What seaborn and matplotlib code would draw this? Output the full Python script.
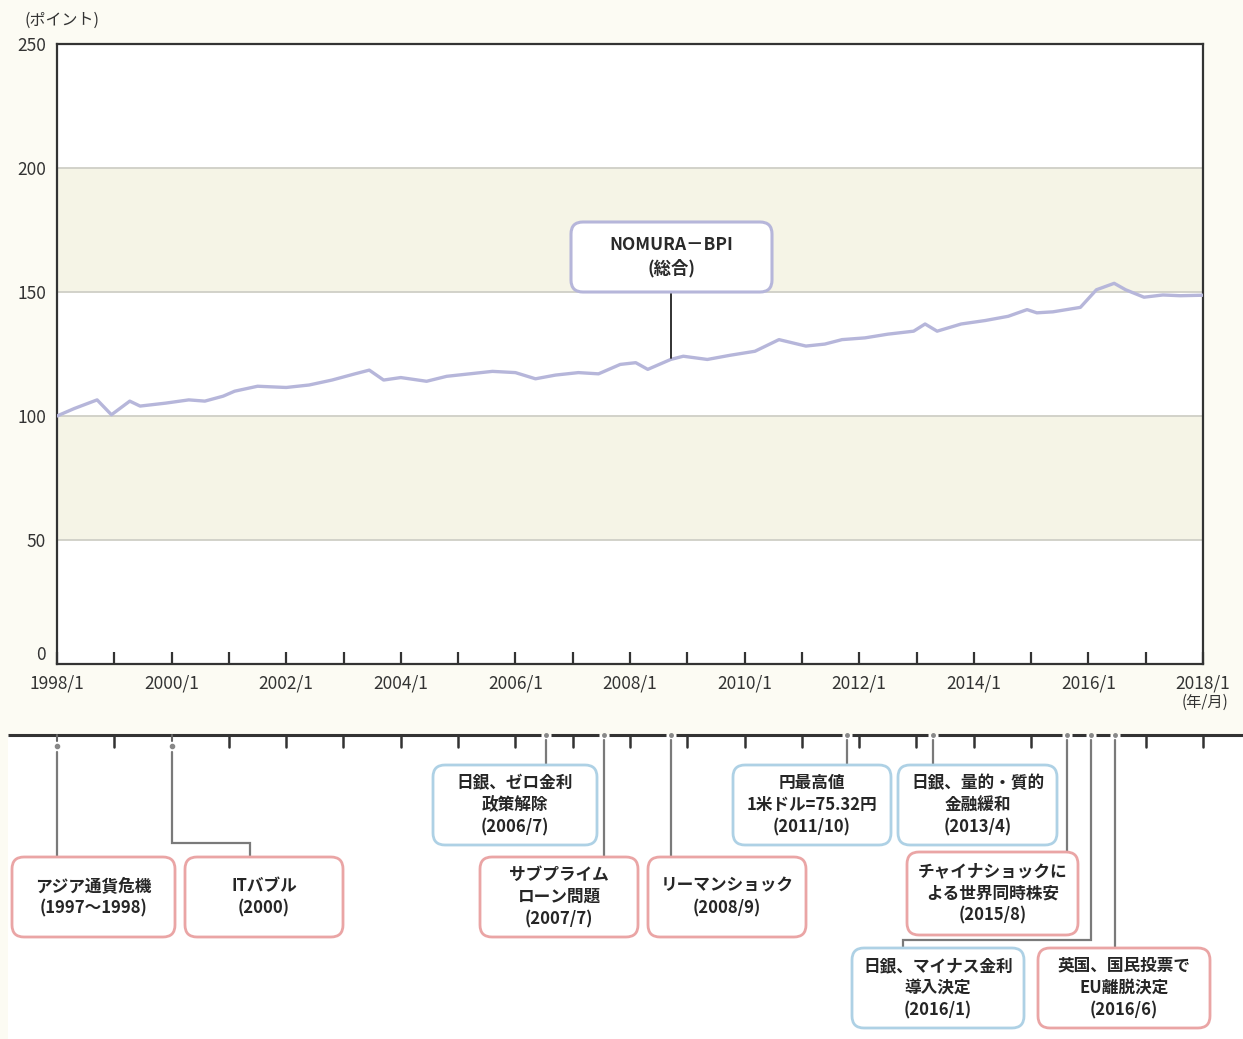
import matplotlib
matplotlib.use("Agg")
import matplotlib.pyplot as plt
import seaborn as sns
import pandas as pd
from matplotlib.patches import FancyBboxPatch, Rectangle

# ---------------- data ----------------
years = [1998.00, 1998.30, 1998.70, 1998.95, 1999.27, 1999.45, 1999.90, 2000.30, 2000.58,
         2000.90, 2001.10, 2001.50, 2002.00, 2002.40, 2002.80, 2003.20, 2003.45, 2003.70,
         2004.00, 2004.45, 2004.80, 2005.20, 2005.60, 2006.00, 2006.35, 2006.70, 2007.10,
         2007.45, 2007.83, 2008.10, 2008.31, 2008.71, 2008.93, 2009.35, 2009.75, 2010.18,
         2010.60, 2011.07, 2011.40, 2011.70, 2012.10, 2012.50, 2012.95, 2013.15, 2013.36,
         2013.78, 2014.20, 2014.60, 2014.93, 2015.10, 2015.38, 2015.86, 2016.14, 2016.45,
         2016.65, 2016.97, 2017.30, 2017.60, 2018.00]
bpi = [100.0, 103.0, 106.5, 100.5, 106.0, 104.0, 105.2, 106.5, 106.0,
       108.0, 110.0, 112.0, 111.5, 112.5, 114.5, 117.0, 118.5, 114.5,
       115.5, 114.0, 116.0, 117.0, 118.0, 117.5, 115.0, 116.5, 117.5,
       117.0, 120.8, 121.5, 118.8, 122.8, 124.1, 122.8, 124.5, 126.1,
       130.8, 128.2, 129.0, 130.8, 131.5, 133.0, 134.2, 137.1, 134.2,
       137.1, 138.5, 140.2, 142.9, 141.6, 142.0, 143.8, 150.9, 153.5,
       150.9, 147.9, 148.8, 148.5, 148.7]

x_tick_years = list(range(1998, 2019))
x_tick_labels = [f"{y}/1" if y % 2 == 0 else "" for y in x_tick_years]
y_ticks = [0, 50, 100, 150, 200, 250]
y_tick_labels = ["0", "50", "100", "150", "200", "250"]
bands = [(50, 100), (150, 200)]
grid_values = [50, 100, 150, 200]

series_label = "NOMURA－BPI\n(総合)"
series_label_year = 2008.71
series_label_value = 123.3

timeline_tick_years = [1999, 2001, 2002, 2003, 2004, 2005, 2006, 2007, 2008, 2009,
                       2010, 2011, 2012, 2013, 2014, 2015, 2017, 2018]

event_labels = [
    "アジア通貨危機\n(1997〜1998)",
    "ITバブル\n(2000)",
    "日銀、ゼロ金利\n政策解除\n(2006/7)",
    "サブプライム\nローン問題\n(2007/7)",
    "リーマンショック\n(2008/9)",
    "円最高値\n1米ドル=75.32円\n(2011/10)",
    "日銀、量的・質的\n金融緩和\n(2013/4)",
    "チャイナショックに\nよる世界同時株安\n(2015/8)",
    "日銀、マイナス金利\n導入決定\n(2016/1)",
    "英国、国民投票で\nEU離脱決定\n(2016/6)",
]
event_years = [1998.0, 2000.0, 2006.54, 2007.54, 2008.71, 2011.79, 2013.29, 2015.62, 2016.04, 2016.46]
event_kind = ["risk", "risk", "policy", "risk", "risk", "policy", "policy", "risk", "policy", "risk"]

# ---------------- layout (pixels) ----------------
W, H = 1243, 1039
box_rects = [  # x0, y0, x1, y1
    (12, 857, 175, 937),
    (185, 857, 343, 937),
    (433, 765, 597, 845),
    (480, 857, 638, 937),
    (648, 857, 806, 937),
    (733, 765, 891, 845),
    (898, 765, 1057, 845),
    (907, 852, 1078, 935),
    (852, 948, 1024, 1028),
    (1038, 948, 1210, 1028),
]
elbows = {1: (843, 250), 8: (940, 903)}  # idx: (elbow_y, elbow_x)

CREAM = "#fcfbf3"
BAND = "#f5f4e6"
GRID = "#cfcfc6"
LINE = "#b6b6da"
DARK = "#333333"
LEAD = "#7a7a7a"
EDGE = {"risk": "#eaa5a5", "policy": "#aed1e5"}

sns.set_theme(style="white")
plt.rcParams["font.family"] = ["Noto Sans CJK JP", "DejaVu Sans"]

fig = plt.figure(figsize=(W / 100, H / 100), dpi=100, facecolor=CREAM)
L, R, B, T = 57 / W, 1203 / W, 1 - 664 / H, 1 - 44 / H
ax = fig.add_axes([L, B, R - L, T - B])
ax.set_facecolor("white")

df = pd.DataFrame({"year": years, "bpi": bpi})
sns.lineplot(data=df, x="year", y="bpi", ax=ax, color=LINE, linewidth=2.4, zorder=3)
ax.set_xlim(1998, 2018)
ax.set_ylim(0, 250)
for lo, hi in bands:
    ax.axhspan(lo, hi, color=BAND, lw=0, zorder=0)
for v in grid_values:
    ax.axhline(v, color=GRID, lw=1.3, zorder=1)

ax.set_xticks(x_tick_years)
ax.set_xticklabels(x_tick_labels)
ax.set_yticks(y_ticks)
ax.set_yticklabels(y_tick_labels)
ax.tick_params(axis="x", direction="in", length=9, width=1.6, color=DARK, pad=7.5,
               labelsize=12.5, labelcolor=DARK, bottom=True)
ax.tick_params(axis="y", length=0, pad=8, labelsize=12.5, labelcolor=DARK)
ax.get_yticklabels()[0].set_va("bottom")
ax.set_xlabel("")
ax.set_ylabel("")
for s in ax.spines.values():
    s.set_color(DARK)
    s.set_linewidth(1.6)

# leader from NOMURA box to line
ax.plot([series_label_year, series_label_year], [150.8, series_label_value],
        color="#222222", lw=1.3, zorder=4)

# ---------------- overlay in pixel coordinates ----------------
ov = fig.add_axes([0, 0, 1, 1], zorder=5)
ov.set_xlim(0, W)
ov.set_ylim(H, 0)
ov.axis("off")
ov.patch.set_visible(False)


def px(year):
    return ax.transData.transform((year, 0))[0]


ov.text(62, 20, "(ポイント)", ha="center", va="center", fontsize=11.5, color=DARK)
ov.text(1205, 702, "(年/月)", ha="center", va="center", fontsize=11, color=DARK)

# NOMURA box
nb = FancyBboxPatch((571, 222), 201, 70, boxstyle="round,pad=0,rounding_size=12",
                    facecolor="white", edgecolor=LINE, lw=2.2, zorder=6)
ov.add_patch(nb)
ov.text(671.5, 257, series_label, ha="center", va="center", fontsize=12.5,
        fontweight="bold", color="#2a2a2a", linespacing=1.35, zorder=7)

# timeline area
ov.add_patch(Rectangle((8, 735), W - 8, H - 735, facecolor="white", edgecolor="none", zorder=0))
TL_Y = 735
marker_px = [px(y) for y in event_years]
gap_markers = sorted(m for i, m in enumerate(marker_px) if i >= 2)
start = 8
for m in gap_markers:
    if m - 5 > start:
        ov.plot([start, m - 5], [TL_Y, TL_Y], color=DARK, lw=2.2, solid_capstyle="butt", zorder=2)
    start = m + 5
ov.plot([start, W], [TL_Y, TL_Y], color=DARK, lw=2.2, solid_capstyle="butt", zorder=2)
for m in gap_markers:
    ov.plot([m], [TL_Y], marker="o", ms=2.5, color="#888888", zorder=3)

for ty in timeline_tick_years:
    x = px(ty)
    ov.plot([x, x], [TL_Y, TL_Y + 12], color=DARK, lw=1.8, zorder=2)

for i, (lab, kind) in enumerate(zip(event_labels, event_kind)):
    mx = marker_px[i]
    x0, y0, x1, y1 = box_rects[i]
    if i < 2:
        ov.plot([mx, mx], [TL_Y, TL_Y + 6], color="#666666", lw=1.5, zorder=2)
        ov.plot([mx], [TL_Y + 11], marker="o", ms=3, color="#888888", zorder=3)
        y_start = TL_Y + 17
    else:
        y_start = TL_Y + 5
    if i in elbows:
        ey, ex = elbows[i]
        path_x = [mx, mx, ex, ex]
        path_y = [y_start, ey, ey, y0]
    else:
        path_x = [mx, mx]
        path_y = [y_start, y0]
    ov.plot(path_x, path_y, color=LEAD, lw=1.6, zorder=2, solid_joinstyle="miter")
    box = FancyBboxPatch((x0, y0), x1 - x0, y1 - y0, boxstyle="round,pad=0,rounding_size=12",
                         facecolor="white", edgecolor=EDGE[kind], lw=2.0, zorder=4)
    ov.add_patch(box)
    ov.text((x0 + x1) / 2, (y0 + y1) / 2, lab, ha="center", va="center", fontsize=12,
            fontweight="bold", color="#262626", linespacing=1.3, zorder=5)

fig.savefig("out.png", dpi=100, facecolor=CREAM)
